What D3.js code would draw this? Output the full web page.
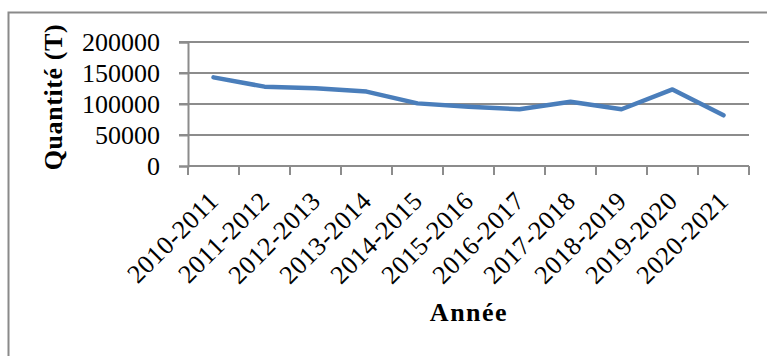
<!DOCTYPE html>
<html>
<head>
<meta charset="utf-8">
<script src="https://cdn.jsdelivr.net/npm/d3@7"></script>
<style>
  html, body { margin: 0; padding: 0; background: #fff; }
  svg { display: block; }
  text { font-family: "Liberation Serif", "Times New Roman", serif; fill: #000; }
</style>
</head>
<body>
<div id="chart"></div>
<script>
const categories = ["2010-2011","2011-2012","2012-2013","2013-2014","2014-2015","2015-2016","2016-2017","2017-2018","2018-2019","2019-2020","2020-2021"];
const values = [143000, 128000, 125500, 120000, 101000, 95500, 91500, 103500, 91500, 123500, 81700];
const yTicks = [0, 50000, 100000, 150000, 200000];
const yTitle = "Quantité (T)";
const xTitle = "Année";

(function () {
const W = 767, H = 356;
const svg = d3.select("#chart").append("svg").attr("width", W).attr("height", H);

// outer chart border
svg.append("rect")
  .attr("x", 8.5).attr("y", 12.5).attr("width", 770).attr("height", 360)
  .attr("fill", "none").attr("stroke", "#8a8a8a").attr("stroke-width", 2);

const pLeft = 188, pRight = 749, pTop = 42, pBottom = 166;
const x = d3.scaleBand().domain(categories).range([pLeft, pRight]).padding(0);
const y = d3.scaleLinear().domain([0, 200000]).range([pBottom, pTop]);

const gridColor = "#8c8c8c";

// gridlines
svg.append("g").selectAll("line").data(yTicks.filter(d => d > 0)).join("line")
  .attr("x1", pLeft - 9).attr("x2", pRight)
  .attr("y1", d => y(d)).attr("y2", d => y(d))
  .attr("stroke", gridColor).attr("stroke-width", 2);

// y axis
const yAxis = svg.append("g").attr("transform", `translate(${pLeft},0)`)
  .call(d3.axisLeft(y).tickValues(yTicks).tickSize(9).tickPadding(19).tickFormat(d3.format("d")));
yAxis.select(".domain").attr("stroke", gridColor).attr("stroke-width", 2);
yAxis.selectAll(".tick line").attr("stroke", gridColor).attr("stroke-width", 2);
yAxis.selectAll(".tick text").attr("font-size", 26).attr("font-family", "Liberation Serif").attr("dy", "0.34em");

// x axis
const xTickPos = categories.map(c => x(c)).concat([pRight]);
const xAxisG = svg.append("g");
xAxisG.append("line").attr("x1", pLeft).attr("x2", pRight).attr("y1", pBottom).attr("y2", pBottom)
  .attr("stroke", gridColor).attr("stroke-width", 2);
xAxisG.selectAll("line.tk").data(xTickPos).join("line").attr("class", "tk")
  .attr("x1", d => d).attr("x2", d => d).attr("y1", pBottom).attr("y2", pBottom + 9)
  .attr("stroke", gridColor).attr("stroke-width", 2);

xAxisG.selectAll("text.xl").data(categories).join("text").attr("class", "xl")
  .attr("transform", d => `translate(${x(d) + x.bandwidth() / 2},196) rotate(-45)`)
  .attr("text-anchor", "end").attr("dy", "0.35em")
  .attr("font-size", 26).style("letter-spacing", "0.5px")
  .text(d => d);

// line
const line = d3.line().x((d, i) => x(categories[i]) + x.bandwidth() / 2).y(d => y(d));
svg.append("path").datum(values)
  .attr("d", line)
  .attr("fill", "none").attr("stroke", "#4a7ebb").attr("stroke-width", 4.5)
  .attr("stroke-linejoin", "round").attr("stroke-linecap", "round");

// axis titles
svg.append("text")
  .attr("transform", "translate(53,97) rotate(-90)")
  .attr("text-anchor", "middle").attr("dy", "0.35em")
  .attr("font-size", 26).attr("font-weight", "bold").style("letter-spacing", "0.6px")
  .text(yTitle);

svg.append("text")
  .attr("x", 469).attr("y", 321)
  .attr("text-anchor", "middle")
  .attr("font-size", 26).attr("font-weight", "bold").style("letter-spacing", "1.5px")
  .text(xTitle);
})();
</script>
</body>
</html>
